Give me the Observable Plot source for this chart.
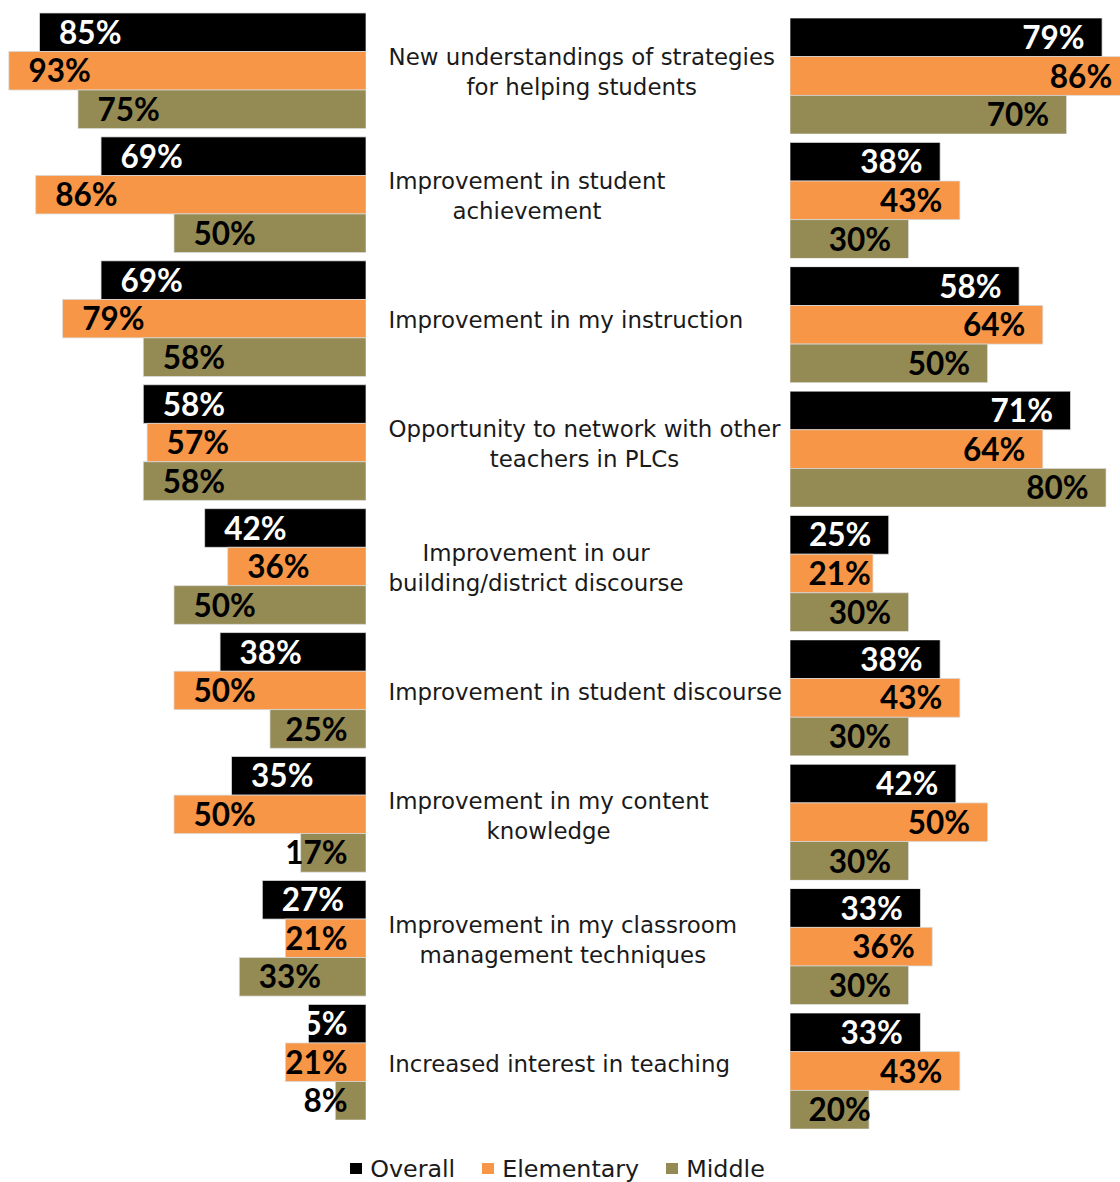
<!DOCTYPE html>
<html><head><meta charset="utf-8">
<script src="https://cdn.jsdelivr.net/npm/d3@7"></script>
<script src="https://cdn.jsdelivr.net/npm/@observablehq/plot@0.6"></script>
<style>
body{margin:0;background:#fff;}
#chart{position:relative;width:1120px;height:1182px;overflow:hidden;background:#fff;}
#left,#mid,#right{position:absolute;top:0;}
#left{left:0;} #mid{left:366px;} #right{left:790px;}
#legend{position:absolute;top:1152px;left:11px;width:1120px;display:flex;justify-content:center;}
</style></head>
<body><div id="chart"><div id="left"></div><div id="mid"></div><div id="right"></div><div id="legend"></div></div>
<script>
const categories = [
  "New understandings of strategies\nfor helping students",
  "Improvement in student\nachievement",
  "Improvement in my instruction",
  "Opportunity to network with other\nteachers in PLCs",
  "Improvement in our\nbuilding/district discourse",
  "Improvement in student discourse",
  "Improvement in my content\nknowledge",
  "Improvement in my classroom\nmanagement techniques",
  "Increased interest in teaching"
];
const series = ["Overall", "Elementary", "Middle"];
const colors = ["#000000", "#F79646", "#948A54"];
const leftOverall    = [85, 69, 69, 58, 42, 38, 35, 27, 15];
const leftElementary = [93, 86, 79, 57, 36, 50, 50, 21, 21];
const leftMiddle     = [75, 50, 58, 58, 50, 25, 17, 33, 8];
const rightOverall    = [79, 38, 58, 71, 25, 38, 42, 33, 33];
const rightElementary = [86, 43, 64, 64, 21, 43, 50, 36, 43];
const rightMiddle     = [70, 30, 50, 80, 30, 30, 30, 30, 20];

function table(cols) {
  return categories.flatMap((c, i) => series.map((s, j) => ({category: c, series: s, value: cols[j][i]})));
}
const leftData = table([leftOverall, leftElementary, leftMiddle]);
const rightData = table([rightOverall, rightElementary, rightMiddle]);

const labelFont = "DejaVu Sans";
const labelSize = 22.9;
const valueFont = {fontFamily: "Lato", fontWeight: 700, fontSize: 31.5};

const canvas = document.createElement("canvas");
const ctx = canvas.getContext("2d");
function measure(txt, font) { ctx.font = font; return ctx.measureText(txt).width; }

const fyOpts = {domain: categories, paddingInner: 0.068, paddingOuter: 0, round: false, axis: null};
const yOpts = {domain: series, padding: 0, round: false, axis: null};
const colorOpts = {domain: series, range: colors};

function valueMarks(data, side) {
  const marks = [];
  for (const [s, fill] of [["Overall", "white"], ["Elementary", "black"], ["Middle", "black"]]) {
    const rows = data.filter(d => d.series === s);
    const cut = side === "left" ? 26 : 24;
    const long = rows.filter(d => d.value >= cut);
    const short = rows.filter(d => d.value < cut);
    const common = {y: "series", fy: "category", text: d => d.value + "%", fill, dy: 1, ...valueFont};
    if (side === "left") {
      marks.push(Plot.text(long, {...common, x: "value", textAnchor: "start", dx: 19}));
      marks.push(Plot.text(short, {...common, x: () => 0, textAnchor: "end", dx: -19}));
    } else {
      marks.push(Plot.text(long, {...common, x: "value", textAnchor: "end", dx: -18}));
      marks.push(Plot.text(short, {...common, x: () => 0, textAnchor: "start", dx: 18}));
    }
  }
  return marks;
}

const left = Plot.plot({
  width: 366, height: 1120, marginTop: 13, marginBottom: 0, marginLeft: 0, marginRight: 0,
  x: {domain: [0, 366 / 3.84], reverse: true, axis: null},
  y: yOpts, fy: fyOpts, color: colorOpts,
  marks: [
    Plot.barX(leftData, {x: "value", y: "series", fy: "category", fill: "series", stroke: "#d9d9d9", strokeWidth: 0.75}),
    ...valueMarks(leftData, "left")
  ]
});
document.getElementById("left").appendChild(left);

const right = Plot.plot({
  width: 330, height: 1129, marginTop: 18, marginBottom: 0, marginLeft: 0, marginRight: 0,
  x: {domain: [0, 330 / 3.95], axis: null},
  y: yOpts, fy: {...fyOpts, paddingInner: 0.0675}, color: colorOpts,
  marks: [
    Plot.barX(rightData, {x: "value", y: "series", fy: "category", fill: "series", stroke: "#d9d9d9", strokeWidth: 0.75, clip: true}),
    ...valueMarks(rightData, "right")
  ]
});
document.getElementById("right").appendChild(right);

const mid = Plot.plot({
  width: 424, height: 1120, marginTop: 13, marginBottom: 0, marginLeft: 22, marginRight: 0,
  fy: fyOpts,
  marks: categories.map(c => {
    const w = d3.max(c.split("\n"), line => measure(line, `${labelSize}px '${labelFont}'`));
    return Plot.text([c], {fy: d => d, text: d => d, frameAnchor: "left", textAnchor: "middle", dx: w / 2, dy: -0.5,
      lineHeight: 1.3, fontFamily: labelFont, fontSize: labelSize, fill: "#1a1a1a"});
  })
});
document.getElementById("mid").appendChild(mid);

const legend = Plot.legend({
  color: colorOpts, swatchWidth: 12, swatchHeight: 11, className: "lg",
  style: {fontFamily: labelFont, fontSize: "23.8px", color: "#1a1a1a", margin: 0}
});
document.getElementById("legend").appendChild(legend);
</script>
<style>
.lg-swatch{margin-right:27px !important;}
.lg-swatch > svg{margin-right:8px !important;}
</style>
</body></html>
